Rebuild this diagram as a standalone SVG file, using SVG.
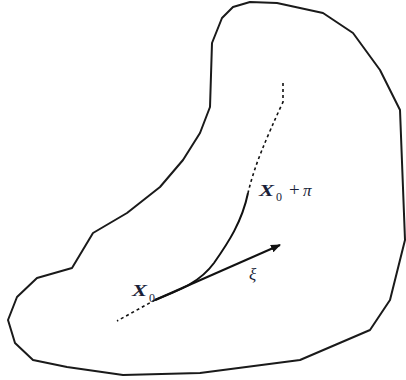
<svg xmlns="http://www.w3.org/2000/svg" width="406" height="380" viewBox="0 0 406 380">
<defs>
<marker id="ah" markerWidth="10" markerHeight="8" refX="9" refY="4" orient="auto" markerUnits="userSpaceOnUse">
<path d="M0,0 L10,4 L0,8 Z" fill="#111"/>
</marker>
<style>
.outline{fill:none;stroke:#1a1a1a;stroke-width:2;stroke-linejoin:round}
.solid{fill:none;stroke:#111;stroke-width:2}
.dash{fill:none;stroke:#111;stroke-width:1.6;stroke-dasharray:3 3}
.lbl{font-family:"Liberation Serif",serif;fill:#1a1f3a}
.it{font-style:italic}
.bx{font-style:italic;font-weight:bold}
</style>
</defs>
<g id="region">
<path class="outline" d="M250,2 L233,7 L222,18 L212,43 L210,107 L200,133 L183,160 L160,187 L127,213 L93,233 L72,268 L37,278 L17,297 L8,320 L15,343 L33,360 L67,367 L123,375 L200,373 L300,360 L370,330 L390,300 L405,240 L400,110 L380,70 L353,33 L323,13 L277,3 Z"/>
</g>
<g id="connectors">
<path class="dash" d="M283,83 L283,102 Q270,130 262,150 Q253,172 248,193"/>
<path class="solid" d="M155,300 C182,289 200,282 214,263 C228,243 242,222 248,193"/>
<path class="dash" d="M155,300 L117,321"/>
<line class="solid" x1="155" y1="300" x2="280" y2="245" marker-end="url(#ah)"/>
</g>
<g id="labels">
<text class="lbl bx" x="132" y="296" font-size="17" textLength="15" lengthAdjust="spacingAndGlyphs">X</text>
<text class="lbl" x="149" y="302" font-size="12">0</text>
<text class="lbl bx" x="259" y="196" font-size="17" textLength="15" lengthAdjust="spacingAndGlyphs">X</text>
<text class="lbl" x="276" y="201" font-size="12">0</text>
<text class="lbl" x="289" y="196" font-size="19">+</text>
<text class="lbl it" x="303" y="196" font-size="17">π</text>
<text class="lbl it" x="249" y="280" font-size="17">ξ</text>
</g>
</svg>
